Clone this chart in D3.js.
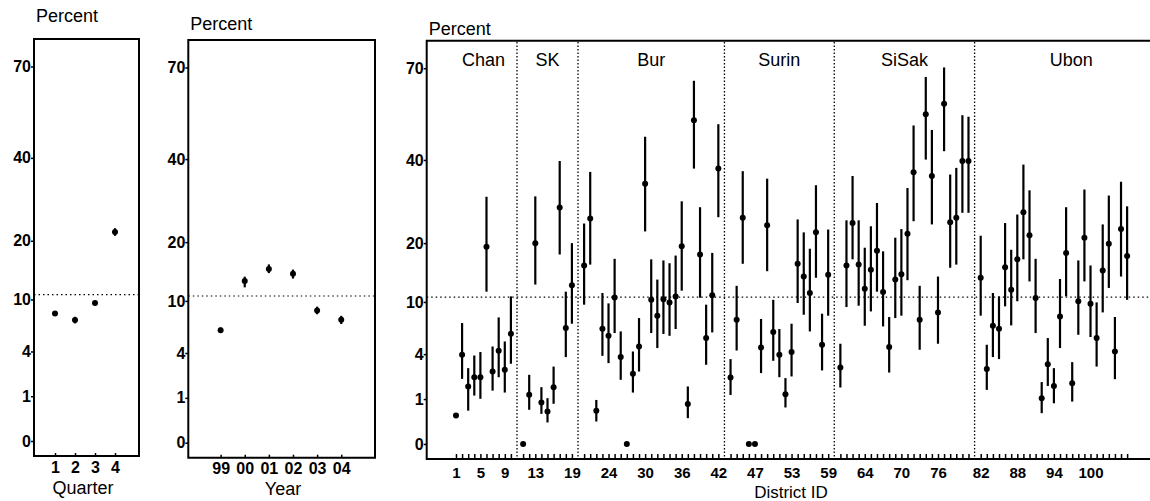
<!DOCTYPE html>
<html>
<head>
<meta charset="utf-8">
<script src="https://cdn.jsdelivr.net/npm/d3@7"></script>
<style>
  body { margin: 0; background: #fff; }
  text { font-family: "Liberation Sans", Arial, sans-serif; fill: #000; }
  .tick text { font-weight: bold; }
  .tick line { stroke: #000; stroke-width: 1.5; }
</style>
</head>
<body>
<div class="chart"></div>
<script>
// Percent positive by quarter, by year and by district (sqrt-scaled y axis)
var yTicks = [0, 1, 4, 10, 20, 40, 70];
var refLevel = 10.7;

var quarters = ["1", "2", "3", "4"];
var quarterPct = [8.1, 7.3, 9.5, 21.8];
var quarterLo = [7.8, 6.9, 9.2, 21.0];
var quarterHi = [8.4, 7.7, 9.8, 22.6];

var years = ["99", "00", "01", "02", "03", "04"];
var yearPct = [6.3, 13.0, 15.0, 14.2, 8.7, 7.5];
var yearLo = [6.0, 12.0, 14.3, 13.4, 8.2, 7.0];
var yearHi = [6.6, 13.7, 15.8, 14.9, 9.2, 8.0];

var provinces = ["Chan", "SK", "Bur", "Surin", "SiSak", "Ubon"];
var provinceFirst = [1, 11, 20, 43, 60, 82];
var districtLabels = [1, 5, 9, 13, 19, 24, 30, 36, 42, 47, 53, 59, 64, 70, 76, 82, 88, 94, 100];

// district 1..106
var districtPct = [
  0.4, 3.94, 1.63, 2.21, 2.21, 19.3, 2.6, 4.31, 2.73, 6.02,
  0, 1.2, 20.0, 0.85, 0.52, 1.6, 27.7, 6.66, 12.5,
  15.8, 25.2, 0.55, 6.58, 5.8, 10.65, 3.74, 0, 2.44, 4.71, 33.6, 10.3, 8.16, 10.4, 9.94, 10.8, 19.4, 0.79, 52.0, 17.8, 5.56, 10.95, 37.6,
  2.19, 7.65, 25.4, 0, 0, 4.62, 23.7, 6.21, 3.94, 1.23, 4.19, 16.1, 13.9, 11.3, 22.2, 4.88, 14.2,
  2.9, 15.8, 24.2, 15.95, 11.96, 15.07, 18.5, 11.45, 4.65, 13.4, 14.3, 21.9, 36.6, 7.65, 53.9, 35.6, 8.58, 57.4, 24.4, 25.4, 39.7, 39.7,
  13.7, 2.78, 6.93, 6.58, 15.5, 11.8, 16.9, 26.6, 21.6, 10.57, 1.04, 3.16, 1.67, 8.07, 18.1, 1.83, 10.1, 21.1, 9.76, 5.56, 14.9, 19.9, 4.24, 22.9, 17.5
];
var districtLo = [
  0.4, 2.1, 0.55, 1.16, 1.01, 11.5, 1.41, 2.21, 1.31, 3.19,
  0, 0.58, 12.6, 0.45, 0.23, 0.8, 17.8, 3.74, 7.17,
  9.62, 15.95, 0.25, 3.85, 3.24, 6.1, 2.04, 0, 1.31, 2.6, 22.4, 6.1, 4.56, 6.0, 5.8, 6.55, 11.65, 0.33, 37.6, 10.6, 3.11, 6.17, 25.5,
  1.19, 4.33, 16.1, 0, 0, 2.49, 14.8, 3.43, 2.21, 0.66, 2.26, 9.85, 8.28, 6.28, 13.7, 2.68, 8.16,
  1.58, 9.3, 16.9, 9.48, 6.93, 8.71, 11.5, 6.85, 2.53, 7.86, 8.16, 13.3, 24.6, 4.4, 40.1, 23.9, 4.98, 42.5, 15.4, 15.95, 26.5, 26.5,
  8.16, 1.45, 3.74, 3.57, 9.39, 6.97, 10.1, 16.9, 13.1, 6.1, 0.47, 1.67, 0.82, 4.56, 10.8, 0.89, 5.91, 13.1, 5.67, 2.97, 8.58, 12.07, 2.08, 13.9, 10.3
];
var districtHi = [
  0.4, 7.25, 2.85, 3.88, 4.19, 30.3, 4.71, 7.94, 5.21, 10.8,
  0, 2.37, 30.4, 1.6, 1.04, 2.97, 39.7, 11.5, 20.0,
  24.1, 36.7, 0.96, 11.3, 9.8, 17.0, 6.28, 0, 4.24, 7.86, 46.8, 16.9, 13.4, 16.7, 16.2, 17.6, 29.2, 1.64, 65.4, 27.8, 9.62, 18.1, 50.7,
  3.57, 12.4, 36.9, 0, 0, 7.74, 34.9, 10.3, 6.55, 2.15, 7.17, 25.0, 22.2, 18.9, 33.2, 8.41, 22.8,
  4.98, 24.8, 35.6, 24.8, 19.1, 23.5, 28.8, 18.4, 7.99, 21.1, 22.9, 32.5, 50.3, 12.4, 66.8, 48.9, 13.9, 70.3, 36.0, 37.8, 53.6, 53.1,
  21.5, 4.88, 11.3, 10.8, 24.2, 18.7, 26.1, 38.7, 31.9, 17.0, 1.9, 5.56, 2.85, 13.5, 27.8, 3.32, 16.7, 32.1, 15.8, 9.94, 23.9, 30.6, 7.99, 34.1, 28.0
];

var svgWidth = 1150;
var svgHeight = 501;

var svg = d3.select(".chart")
    .append("svg")
    .attr("width", svgWidth)
    .attr("height", svgHeight);

// position along district axis: one empty slot between provinces
function provIndex(d) {
    var k = 0;
    provinceFirst.forEach(function(f, i) { if (d >= f) k = i; });
    return k;
}
function slot(d) { return d + provIndex(d); }

// y scale: sqrt of percent, frame reaches a bit below 0 and above 70
function makeY(bottom, top) {
    var lin = d3.scaleLinear().domain([-0.335, 8.98]).range([bottom, top]);
    return d3.scaleSqrt().domain([0, 70]).range([lin(0), lin(Math.sqrt(70))]);
}

function drawPanel(p) {
    var g = svg.append("g");
    var x0 = p.x.range()[0], x1 = p.x.range()[1];

    // left y axis
    var yAxis = g.append("g")
        .attr("transform", "translate(" + x0 + ",0)")
        .call(d3.axisLeft(p.y).tickValues(yTicks).tickSize(3).tickPadding(0));
    yAxis.select(".domain").remove();
    yAxis.attr("font-size", 16).attr("text-anchor", "end");

    // reference level
    g.append("line")
        .attr("x1", x0).attr("x2", x1)
        .attr("y1", p.y(refLevel)).attr("y2", p.y(refLevel))
        .attr("stroke", "#000")
        .attr("stroke-width", 1.2)
        .attr("stroke-dasharray", "1.5,3");

    // frame
    var frame = d3.path();
    if (p.closed) {
        frame.rect(x0, p.top, x1 - x0, p.bottom - p.top);
    } else {
        frame.moveTo(x1, p.top);
        frame.lineTo(x0, p.top);
        frame.lineTo(x0, p.bottom);
        frame.lineTo(x1, p.bottom);
    }
    g.append("path")
        .attr("d", frame.toString())
        .attr("fill", "none")
        .attr("stroke", "#000")
        .attr("stroke-width", 2);

    g.append("text")
        .attr("x", x0 + 2)
        .attr("y", p.titleY)
        .style("font-size", "18px")
        .text("Percent");

    g.append("text")
        .attr("x", p.labelX)
        .attr("y", p.labelY)
        .attr("text-anchor", "middle")
        .style("font-size", p.labelSize)
        .text(p.label);

    // error bars and points
    g.selectAll(".bar")
        .data(p.data)
        .enter()
        .append("line")
        .attr("x1", function(d) { return p.x(d.pos); })
        .attr("x2", function(d) { return p.x(d.pos); })
        .attr("y1", function(d) { return p.y(d.lo); })
        .attr("y2", function(d) { return p.y(d.hi); })
        .attr("stroke", "#000")
        .attr("stroke-width", 2.2);

    g.selectAll("circle")
        .data(p.data)
        .enter()
        .append("circle")
        .attr("cx", function(d) { return p.x(d.pos); })
        .attr("cy", function(d) { return p.y(d.value); })
        .attr("r", 3)
        .attr("fill", "#000");

    return g;
}

// Panel 1: quarter
var qData = quarters.map(function(q, i) {
    return { pos: +q, value: quarterPct[i], lo: quarterLo[i], hi: quarterHi[i] };
});
var qx = d3.scaleLinear().domain([-0.05, 5.2]).range([34, 139]);
var q = drawPanel({
    x: qx, y: makeY(456, 39), top: 39, bottom: 456, closed: true,
    data: qData, titleY: 22, label: "Quarter", labelX: 83, labelY: 494, labelSize: "18px"
});
q.append("g")
    .attr("transform", "translate(0,456)")
    .attr("font-size", 16)
    .call(d3.axisBottom(qx).tickValues([1, 2, 3, 4]).tickSize(-3).tickPadding(6)
        .tickFormat(function(v) { return quarters[v - 1]; }))
    .attr("font-size", 16)
    .call(function(a) { a.select(".domain").remove(); });

// Panel 2: year
var yData = years.map(function(yr, i) {
    return { pos: i, value: yearPct[i], lo: yearLo[i], hi: yearHi[i] };
});
var yx = d3.scaleLinear().domain([-1.34, 6.4]).range([188.3, 375]);
var yPanel = drawPanel({
    x: yx, y: makeY(457.7, 40), top: 40, bottom: 457.7, closed: true,
    data: yData, titleY: 30, label: "Year", labelX: 283, labelY: 495, labelSize: "18px"
});
yPanel.append("g")
    .attr("transform", "translate(0,457.7)")
    .call(d3.axisBottom(yx).tickValues(d3.range(years.length)).tickSize(-3).tickPadding(5)
        .tickFormat(function(i) { return years[i]; }))
    .attr("font-size", 16)
    .call(function(a) { a.select(".domain").remove(); });

// Panel 3: district
var dData = districtPct.map(function(v, i) {
    return { pos: slot(i + 1), value: v, lo: districtLo[i], hi: districtHi[i] };
});
var nDistricts = districtPct.length;
var dx = d3.scaleLinear().domain([-3.8, 117.7]).range([426.7, 1168]);
var dy = makeY(459, 40.7);
var lastSep = dx(slot(provinceFirst[provinceFirst.length - 1]) - 1);
var dPanel = drawPanel({
    x: dx, y: dy, top: 40.7, bottom: 459, closed: false,
    data: dData, titleY: 35, label: "District ID", labelX: 791, labelY: 498, labelSize: "17px"
});

// province separators
dPanel.selectAll(".sep")
    .data(provinceFirst.slice(1))
    .enter()
    .append("line")
    .attr("x1", function(f) { return dx(slot(f) - 1); })
    .attr("x2", function(f) { return dx(slot(f) - 1); })
    .attr("y1", 42)
    .attr("y2", 459)
    .attr("stroke", "#000")
    .attr("stroke-width", 1.3)
    .attr("stroke-dasharray", "1.5,2");

// province names
dPanel.selectAll(".prov")
    .data(provinces)
    .enter()
    .append("text")
    .attr("x", function(name, i) {
        if (i === provinces.length - 1) return (lastSep + dx.range()[1]) / 2;
        var first = provinceFirst[i];
        var last = provinceFirst[i + 1] - 1;
        return (dx(slot(first)) + dx(slot(last))) / 2;
    })
    .attr("y", 66)
    .attr("text-anchor", "middle")
    .style("font-size", "18px")
    .text(function(name) { return name; });

// minor ticks at every district, pointing inward
dPanel.append("g")
    .attr("transform", "translate(0,459)")
    .call(d3.axisBottom(dx).tickValues(d3.range(1, nDistricts + 1).map(slot)).tickSize(-5).tickFormat(""))
    .call(function(a) { a.select(".domain").remove(); });

// labelled districts
dPanel.append("g")
    .attr("transform", "translate(0,459)")
    .call(d3.axisBottom(dx).tickValues(districtLabels.map(slot)).tickSize(0).tickPadding(8)
        .tickFormat(function(s, i) { return districtLabels[i]; }))
    .attr("font-size", 15)
    .call(function(a) { a.select(".domain").remove(); });
</script>
</body>
</html>
